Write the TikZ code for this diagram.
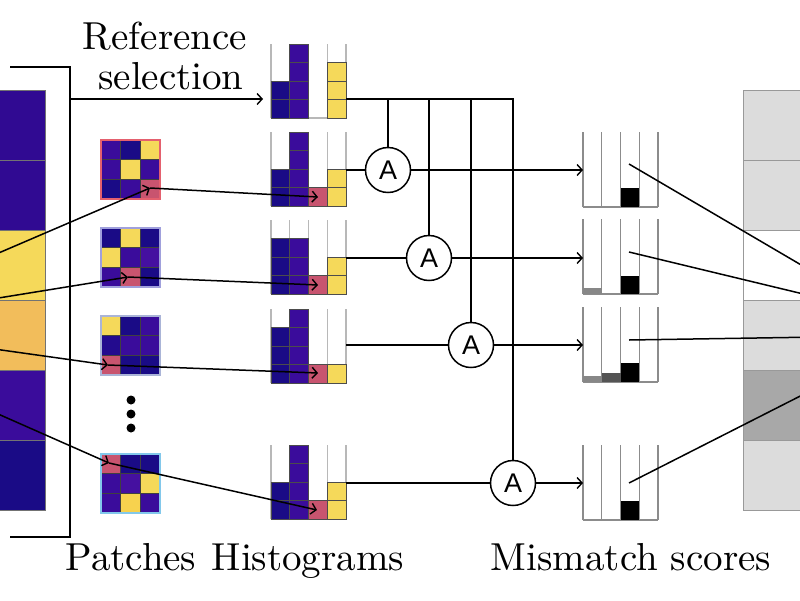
\documentclass[tikz,border=0pt]{standalone}
\usepackage{fontspec}
\newfontfamily\asans{Liberation Sans}
\usetikzlibrary{arrows.meta}
\definecolor{dblue}{HTML}{1A0B86}
\definecolor{dblueb}{HTML}{230B8E}
\definecolor{purp}{HTML}{3A0C9B}
\definecolor{purpb}{HTML}{4510A0}
\definecolor{colpurp}{HTML}{300A92}
\definecolor{yel}{HTML}{F5D95A}
\definecolor{yelb}{HTML}{F7D24E}
\definecolor{orng}{HTML}{F2BD5B}
\definecolor{pnk}{HTML}{C8546F}
\definecolor{gA}{HTML}{DCDCDC}
\definecolor{gB}{HTML}{A8A8A8}
\tikzset{
  conn/.style={line width=1.5pt, black},
  arr/.style={conn, -{Straight Barb[length=5pt,width=11pt,line width=1.4pt]}},
  anode/.style={circle, draw, line width=1.5pt, minimum size=45pt, inner sep=0pt, fill=white, font=\asans\fontsize{27}{27}\selectfont},
  lbl/.style={font=\fontsize{10}{12}\selectfont, scale=3.9, anchor=base, inner sep=0pt},
  hcell/.style={draw=black!70, line width=0.6pt},
  hframe/.style={draw=black!28, line width=1.2pt},
  mframe/.style={draw=black!45, line width=1.1pt},
  pcell/.style={draw=black!75, line width=0.6pt},
}
\newcommand\mybar[4]{% x-left, base, n, color
  \ifnum#3>0
    \foreach \j in {1,...,#3} \draw[hcell,fill=#4] (#1,#2-\j*18.5+18.5) rectangle ++(18.75,-18.5);
  \fi}
\newcommand\myhist[6]{% x-left, base, n1..n4
  \foreach \k in {0,...,4} \draw[hframe] (#1+\k*18.75,#2) -- ++(0,-74);
  \draw[hframe] (#1,#2) -- ++(75,0);
  \mybar{#1}{#2}{#3}{dblue}
  \mybar{#1+18.75}{#2}{#4}{purp}
  \mybar{#1+37.5}{#2}{#5}{pnk}
  \mybar{#1+56.25}{#2}{#6}{yel}}
\newcommand\myframe[1]{% base of mismatch histogram
  \foreach \k in {0,...,4} \draw[mframe] (583+\k*18.75,#1) -- ++(0,-75);
  \draw[mframe] (583,#1) -- ++(75,0);}
\newcommand\prow[4]{%
  \draw[pcell,fill=#2] (101,#1) rectangle ++(19.67,19.67);
  \draw[pcell,fill=#3] (120.67,#1) rectangle ++(19.67,19.67);
  \draw[pcell,fill=#4] (140.33,#1) rectangle ++(19.67,19.67);}
\begin{document}
\begin{tikzpicture}[x=1pt,y=-1pt]
\useasboundingbox (0,0) rectangle (800,600);
\clip (0,0) rectangle (800,600);
% left column
\foreach \c [count=\i from 0] in {colpurp,colpurp,yel,orng,purp,dblue}
  \draw[draw=black!55, line width=0.5pt, fill=\c] (-60,90+\i*70) rectangle (45,160+\i*70);
% right column
\foreach \c [count=\i from 0] in {gA,gA,white,gA,gB,gA}
  \draw[draw=black!40, line width=1pt, fill=\c] (743,90+\i*70) rectangle (850,160+\i*70);
% bracket
\draw[conn] (10,67) -| (70,537) -- (10,537);
% texts
\node[lbl] (t1) at (165,49) {Reference};
\node[lbl] (t2) at (171,89) {selection};
\node[lbl] (t3) at (131,570) {Patches};
\node[lbl] (t4) at (308,570) {Histograms};
\node[lbl] (t5) at (631,570) {Mismatch scores};
% patches
\prow{140}{purp}{dblue}{yel}
\prow{159.67}{purp}{yel}{purp}
\prow{179.33}{dblue}{purp}{pnk}
\draw[draw={rgb,255:red,228;green,96;blue,110}, line width=1.4pt] (101,140) rectangle ++(59,59);
\prow{228}{dblue}{yel}{dblue}
\prow{247.67}{yel}{purp}{purpb}
\prow{267.33}{purp}{pnk}{dblue}
\draw[draw={rgb,255:red,160;green,160;blue,220}, line width=1.4pt] (101,228) rectangle ++(59,59);
\prow{316}{yel}{dblue}{purp}
\prow{335.67}{dblueb}{purp}{purp}
\prow{355.33}{pnk}{dblue}{dblue}
\draw[draw={rgb,255:red,170;green,180;blue,215}, line width=1.4pt] (101,316) rectangle ++(59,59);
\prow{454}{pnk}{dblue}{dblue}
\prow{473.67}{purp}{purpb}{yel}
\prow{493.33}{purp}{yelb}{purp}
\draw[draw={rgb,255:red,130;green,200;blue,235}, line width=1.4pt] (101,454) rectangle ++(59,59);
% dots
\fill (131,400) circle (4.5pt);
\fill (131,414) circle (4.5pt);
\fill (131,428) circle (4.5pt);
% histograms
\myhist{271}{118}{2}{4}{0}{3}
\myhist{271}{206}{2}{4}{1}{2}
\myhist{271}{294}{3}{3}{1}{2}
\myhist{271}{383}{3}{4}{1}{1}
\myhist{271}{519}{2}{4}{1}{2}
% mismatch scores
\myframe{207}
\fill[black] (620.5,207) rectangle ++(18.75,-19);
\myframe{294}
\fill[black!47] (583,294) rectangle ++(18.75,-6);
\fill[black] (620.5,294) rectangle ++(18.75,-18);
\myframe{382}
\fill[black!47] (583,382) rectangle ++(18.75,-6);
\fill[black!67] (601.75,382) rectangle ++(18.75,-9);
\fill[black] (620.5,382) rectangle ++(18.75,-19);
\myframe{520}
\fill[black] (620.5,520) rectangle ++(18.75,-19);
% coordinates
\coordinate (B) at (70,99);
\coordinate (R) at (263,99);
\coordinate (r0) at (346,99);
\coordinate (L1) at (-20,261); \coordinate (P1) at (150,188); \coordinate (H1) at (318,197);
\coordinate (L2) at (-20,301); \coordinate (P2) at (128,277); \coordinate (H2) at (318,285);
\coordinate (L3) at (-20,347); \coordinate (P3) at (108,365); \coordinate (H3) at (318,373);
\coordinate (L4) at (-20,406); \coordinate (P4) at (109,463); \coordinate (H4) at (317,510);
\coordinate (h1) at (346,170); \coordinate (m1) at (583,170);
\coordinate (h2) at (346,258); \coordinate (m2) at (583,258);
\coordinate (h3) at (346,345); \coordinate (m3) at (583,345);
\coordinate (h4) at (346,483); \coordinate (m4) at (583,483);
\coordinate (s1) at (629,164); \coordinate (e1) at (820,276);
\coordinate (s2) at (629,252); \coordinate (e2) at (820,298);
\coordinate (s3) at (629,340); \coordinate (e3) at (820,337);
\coordinate (s4) at (629,483); \coordinate (e4) at (820,386);
% comparison nodes
\node[anode] (a1) at (388,170) {A};
\node[anode] (a2) at (429,258) {A};
\node[anode] (a3) at (471,345) {A};
\node[anode] (a4) at (513,483) {A};
% connectors
\draw[arr] (B) -- (R);
\draw[conn] (r0) -| (a4);
\draw[conn] (a1) -- (a1 |- r0);
\draw[conn] (a2) -- (a2 |- r0);
\draw[conn] (a3) -- (a3 |- r0);
\foreach \i in {1,2,3,4} {
  \draw[arr] (L\i) -- (P\i);
  \draw[arr] (P\i) -- (H\i);
  \draw[conn] (h\i) -- (a\i);
  \draw[arr] (a\i) -- (m\i);
  \draw[conn] (s\i) -- (e\i);
}
\end{tikzpicture}
\end{document}
